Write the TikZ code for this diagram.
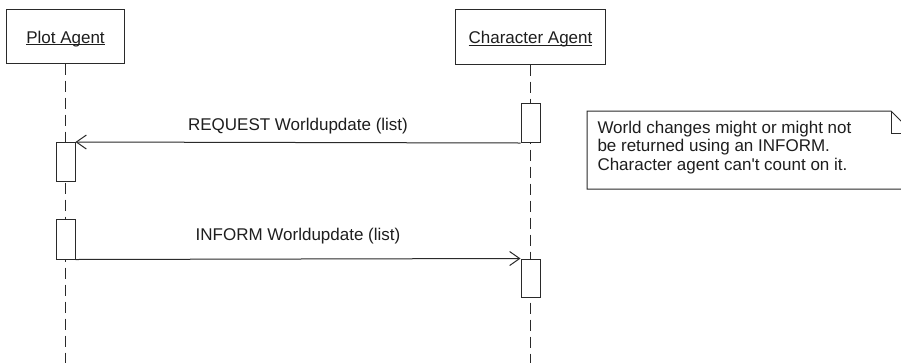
\documentclass[tikz,border=0pt]{standalone}
\usepackage{fontspec}
\setmainfont{Liberation Sans}
\usetikzlibrary{arrows.meta}
\definecolor{linec}{HTML}{2A2A2A}
\definecolor{textc}{HTML}{1E1E1E}
\newcommand\myul[1]{\setbox0\hbox{#1}\rlap{\rule[-1.8bp]{\wd0}{0.9bp}}\box0}
\begin{document}
\begin{tikzpicture}[x=1bp,y=-1bp, line width=1bp,
  every node/.style={font=\fontsize{17bp}{17bp}\selectfont, text=textc},
  agentbox/.style={draw=linec, fill=white, inner sep=0, text height=14.6bp, text depth=0pt},
  actbox/.style={draw=linec, fill=white, minimum width=19bp, inner sep=0},
  lifeline/.style={draw=linec, dash pattern=on 11bp off 6bp},
  msg/.style={draw=linec, -{Straight Barb[length=10bp,width=14bp]}},
  lbl/.style={anchor=base, inner sep=0},
  notebox/.style={draw=linec, fill=white}]
\useasboundingbox (0,0) rectangle (901,362);
\clip (0,0) rectangle (901,362);
\fill[white] (0,0) rectangle (901,362);
% agents
\node[agentbox, minimum width=117bp, minimum height=54bp] (plot) at (65.5,36) {\myul{Plot Agent}};
\node[agentbox, minimum width=150bp, minimum height=55bp] (char) at (530.5,36.5) {\myul{Character Agent}};
\coordinate (plotend) at (65.5,370);
\coordinate (charend) at (530.5,370);
\draw[lifeline] (plot.south) -- (plotend);
\draw[lifeline] (char.south) -- (charend);
% activations
\node[actbox, minimum height=39.5bp] (a1) at (530.5,122.75) {};
\node[actbox, minimum height=38.5bp] (a2) at (65.5,161.75) {};
\node[actbox, minimum height=40bp] (a3) at (65.5,239) {};
\node[actbox, minimum height=38bp] (a4) at (530.5,278) {};
% messages
\draw[msg] (a1.south west) -- node[lbl, midway, yshift=11.8bp] {REQUEST Worldupdate (list)} (a2.north east);
\draw[msg] (a3.south east) -- node[lbl, midway, yshift=18.3bp] {INFORM Worldupdate (list)} (a4.north west);
% note
\draw[notebox] (587,111) -- (891,111) -- (913,133) -- (913,189) -- (587,189) -- cycle;
\draw[linec] (891,111) -- (891,133) -- (913,133);
\node[anchor=base west, inner sep=0] (note) at (597,133.5) {\begin{tabular}[t]{@{}l@{}}World changes might or might not\\[1bp] be returned using an INFORM.\\[1bp] Character agent can\textquotesingle t count on it.\end{tabular}};
\end{tikzpicture}
\end{document}
